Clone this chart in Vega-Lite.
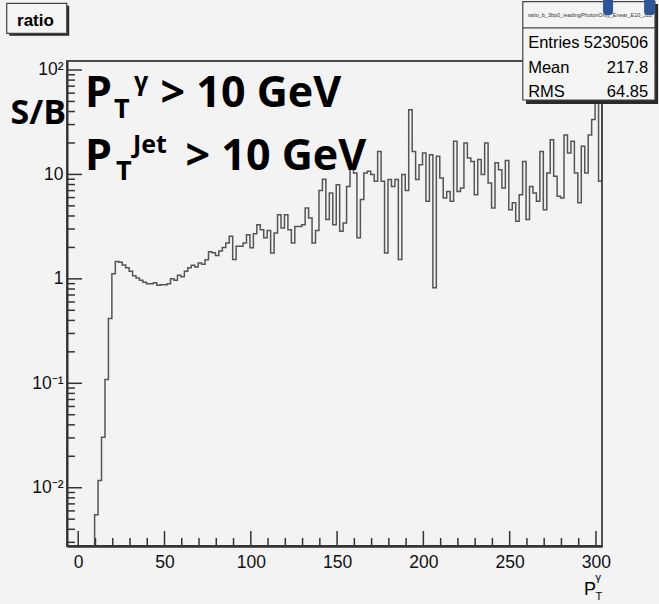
{
  "$schema": "https://vega.github.io/schema/vega-lite/v6.json",
  "width": 535,
  "height": 485,
  "autosize": {"type": "none"},
  "padding": {"left": 67, "top": 61, "right": 57, "bottom": 58},
  "background": "#f3f3f3",
  "config": {
    "view": {"stroke": "#4a4a4a", "strokeWidth": 2}
  },
  "datasets": {
    "hist": [
      {"pt": 7.5, "ratio": 0.001},
      {"pt": 9.5, "ratio": 0.0055}, {"pt": 11.5, "ratio": 0.0117}, {"pt": 13.5, "ratio": 0.0305},
      {"pt": 15.5, "ratio": 0.109}, {"pt": 17.5, "ratio": 0.417}, {"pt": 19.5, "ratio": 1.12},
      {"pt": 21.5, "ratio": 1.47}, {"pt": 23.5, "ratio": 1.44}, {"pt": 25.5, "ratio": 1.36},
      {"pt": 27.5, "ratio": 1.28}, {"pt": 29.5, "ratio": 1.18}, {"pt": 31.5, "ratio": 1.07},
      {"pt": 33.5, "ratio": 1.02}, {"pt": 35.5, "ratio": 0.97}, {"pt": 37.5, "ratio": 0.93},
      {"pt": 39.5, "ratio": 0.9}, {"pt": 41.5, "ratio": 0.9}, {"pt": 43.5, "ratio": 0.92},
      {"pt": 45.5, "ratio": 0.87}, {"pt": 47.5, "ratio": 0.88}, {"pt": 49.5, "ratio": 0.88},
      {"pt": 51.5, "ratio": 0.9}, {"pt": 53.5, "ratio": 1.0}, {"pt": 55.5, "ratio": 0.97},
      {"pt": 57.5, "ratio": 1.08}, {"pt": 59.5, "ratio": 1.05}, {"pt": 61.5, "ratio": 1.18},
      {"pt": 63.5, "ratio": 1.28}, {"pt": 65.5, "ratio": 1.35}, {"pt": 67.5, "ratio": 1.3},
      {"pt": 69.5, "ratio": 1.42}, {"pt": 71.5, "ratio": 1.38}, {"pt": 73.5, "ratio": 1.52},
      {"pt": 75.5, "ratio": 1.82}, {"pt": 77.5, "ratio": 1.78}, {"pt": 79.5, "ratio": 1.67},
      {"pt": 81.5, "ratio": 1.85}, {"pt": 83.5, "ratio": 2.0}, {"pt": 85.5, "ratio": 2.2},
      {"pt": 87.5, "ratio": 2.56}, {"pt": 89.5, "ratio": 1.53}, {"pt": 91.5, "ratio": 2.05},
      {"pt": 93.5, "ratio": 2.05}, {"pt": 95.5, "ratio": 2.2}, {"pt": 97.5, "ratio": 2.65},
      {"pt": 99.5, "ratio": 1.98}, {"pt": 101.5, "ratio": 2.7}, {"pt": 103.5, "ratio": 3.3},
      {"pt": 105.5, "ratio": 2.96}, {"pt": 107.5, "ratio": 2.47}, {"pt": 109.5, "ratio": 2.9},
      {"pt": 111.5, "ratio": 1.77}, {"pt": 113.5, "ratio": 2.75}, {"pt": 115.5, "ratio": 4.12},
      {"pt": 117.5, "ratio": 3.07}, {"pt": 119.5, "ratio": 4.12}, {"pt": 121.5, "ratio": 2.96},
      {"pt": 123.5, "ratio": 2.21}, {"pt": 125.5, "ratio": 3.18}, {"pt": 127.5, "ratio": 3.18},
      {"pt": 129.5, "ratio": 3.3}, {"pt": 131.5, "ratio": 4.78}, {"pt": 133.5, "ratio": 3.83},
      {"pt": 135.5, "ratio": 2.2}, {"pt": 137.5, "ratio": 2.9}, {"pt": 139.5, "ratio": 7.0},
      {"pt": 141.5, "ratio": 9.0}, {"pt": 143.5, "ratio": 3.7}, {"pt": 145.5, "ratio": 6.65},
      {"pt": 147.5, "ratio": 3.3}, {"pt": 149.5, "ratio": 7.97}, {"pt": 151.5, "ratio": 2.86},
      {"pt": 153.5, "ratio": 3.43}, {"pt": 155.5, "ratio": 7.67}, {"pt": 157.5, "ratio": 11.5},
      {"pt": 159.5, "ratio": 10.3}, {"pt": 161.5, "ratio": 2.47}, {"pt": 163.5, "ratio": 5.74},
      {"pt": 165.5, "ratio": 10.3}, {"pt": 167.5, "ratio": 10.7}, {"pt": 169.5, "ratio": 9.96},
      {"pt": 171.5, "ratio": 8.6}, {"pt": 173.5, "ratio": 16.6}, {"pt": 175.5, "ratio": 8.6},
      {"pt": 177.5, "ratio": 1.77}, {"pt": 179.5, "ratio": 8.94}, {"pt": 181.5, "ratio": 7.67},
      {"pt": 183.5, "ratio": 8.94}, {"pt": 185.5, "ratio": 1.53}, {"pt": 187.5, "ratio": 9.96},
      {"pt": 189.5, "ratio": 7.0}, {"pt": 191.5, "ratio": 41.7}, {"pt": 193.5, "ratio": 16.6},
      {"pt": 195.5, "ratio": 8.94}, {"pt": 197.5, "ratio": 12.4}, {"pt": 199.5, "ratio": 16.0},
      {"pt": 201.5, "ratio": 5.53}, {"pt": 203.5, "ratio": 15.4}, {"pt": 205.5, "ratio": 0.82},
      {"pt": 207.5, "ratio": 14.9}, {"pt": 209.5, "ratio": 9.26}, {"pt": 211.5, "ratio": 5.95},
      {"pt": 213.5, "ratio": 6.88}, {"pt": 215.5, "ratio": 5.53}, {"pt": 217.5, "ratio": 20.8},
      {"pt": 219.5, "ratio": 6.88}, {"pt": 221.5, "ratio": 7.43}, {"pt": 223.5, "ratio": 20.0},
      {"pt": 225.5, "ratio": 14.4}, {"pt": 227.5, "ratio": 13.3}, {"pt": 229.5, "ratio": 6.4},
      {"pt": 231.5, "ratio": 13.9}, {"pt": 233.5, "ratio": 9.96}, {"pt": 235.5, "ratio": 20.0},
      {"pt": 237.5, "ratio": 8.29}, {"pt": 239.5, "ratio": 4.78}, {"pt": 241.5, "ratio": 12.9},
      {"pt": 243.5, "ratio": 11.1}, {"pt": 245.5, "ratio": 7.43}, {"pt": 247.5, "ratio": 13.6},
      {"pt": 249.5, "ratio": 4.6}, {"pt": 251.5, "ratio": 5.34}, {"pt": 253.5, "ratio": 3.56},
      {"pt": 255.5, "ratio": 6.4}, {"pt": 257.5, "ratio": 13.3}, {"pt": 259.5, "ratio": 3.7},
      {"pt": 261.5, "ratio": 7.67}, {"pt": 263.5, "ratio": 6.65}, {"pt": 265.5, "ratio": 5.53},
      {"pt": 267.5, "ratio": 16.6}, {"pt": 269.5, "ratio": 4.6}, {"pt": 271.5, "ratio": 10.3},
      {"pt": 273.5, "ratio": 21.5}, {"pt": 275.5, "ratio": 9.6}, {"pt": 277.5, "ratio": 6.17},
      {"pt": 279.5, "ratio": 5.95}, {"pt": 281.5, "ratio": 23.9}, {"pt": 283.5, "ratio": 16.0},
      {"pt": 285.5, "ratio": 20.8}, {"pt": 287.5, "ratio": 10.3}, {"pt": 289.5, "ratio": 5.34},
      {"pt": 291.5, "ratio": 18.6}, {"pt": 293.5, "ratio": 10.3}, {"pt": 295.5, "ratio": 23.9},
      {"pt": 297.5, "ratio": 33.5}, {"pt": 299.5, "ratio": 70.0}, {"pt": 301.5, "ratio": 8.6},
      {"pt": 303.5, "ratio": 0.001}
    ],
    "xTicks": [
      {"v": 0, "lo": 0.002767, "hi": 0.00385}, {"v": 10, "lo": 0.002767, "hi": 0.0033},
      {"v": 20, "lo": 0.002767, "hi": 0.0033}, {"v": 30, "lo": 0.002767, "hi": 0.0033},
      {"v": 40, "lo": 0.002767, "hi": 0.0033}, {"v": 50, "lo": 0.002767, "hi": 0.00385},
      {"v": 60, "lo": 0.002767, "hi": 0.0033}, {"v": 70, "lo": 0.002767, "hi": 0.0033},
      {"v": 80, "lo": 0.002767, "hi": 0.0033}, {"v": 90, "lo": 0.002767, "hi": 0.0033},
      {"v": 100, "lo": 0.002767, "hi": 0.00385}, {"v": 110, "lo": 0.002767, "hi": 0.0033},
      {"v": 120, "lo": 0.002767, "hi": 0.0033}, {"v": 130, "lo": 0.002767, "hi": 0.0033},
      {"v": 140, "lo": 0.002767, "hi": 0.0033}, {"v": 150, "lo": 0.002767, "hi": 0.00385},
      {"v": 160, "lo": 0.002767, "hi": 0.0033}, {"v": 170, "lo": 0.002767, "hi": 0.0033},
      {"v": 180, "lo": 0.002767, "hi": 0.0033}, {"v": 190, "lo": 0.002767, "hi": 0.0033},
      {"v": 200, "lo": 0.002767, "hi": 0.00385}, {"v": 210, "lo": 0.002767, "hi": 0.0033},
      {"v": 220, "lo": 0.002767, "hi": 0.0033}, {"v": 230, "lo": 0.002767, "hi": 0.0033},
      {"v": 240, "lo": 0.002767, "hi": 0.0033}, {"v": 250, "lo": 0.002767, "hi": 0.00385},
      {"v": 260, "lo": 0.002767, "hi": 0.0033}, {"v": 270, "lo": 0.002767, "hi": 0.0033},
      {"v": 280, "lo": 0.002767, "hi": 0.0033}, {"v": 290, "lo": 0.002767, "hi": 0.0033},
      {"v": 300, "lo": 0.002767, "hi": 0.00385}
    ],
    "yTicks": [
      {"v": 0.003, "lo": -6.5, "hi": -1.9}, {"v": 0.004, "lo": -6.5, "hi": -1.9}, {"v": 0.005, "lo": -6.5, "hi": -1.9},
      {"v": 0.006, "lo": -6.5, "hi": -1.9}, {"v": 0.007, "lo": -6.5, "hi": -1.9}, {"v": 0.008, "lo": -6.5, "hi": -1.9},
      {"v": 0.009, "lo": -6.5, "hi": -1.9}, {"v": 0.01, "lo": -6.5, "hi": 2.2},
      {"v": 0.02, "lo": -6.5, "hi": -1.9}, {"v": 0.03, "lo": -6.5, "hi": -1.9}, {"v": 0.04, "lo": -6.5, "hi": -1.9},
      {"v": 0.05, "lo": -6.5, "hi": -1.9}, {"v": 0.06, "lo": -6.5, "hi": -1.9}, {"v": 0.07, "lo": -6.5, "hi": -1.9},
      {"v": 0.08, "lo": -6.5, "hi": -1.9}, {"v": 0.09, "lo": -6.5, "hi": -1.9}, {"v": 0.1, "lo": -6.5, "hi": 2.2},
      {"v": 0.2, "lo": -6.5, "hi": -1.9}, {"v": 0.3, "lo": -6.5, "hi": -1.9}, {"v": 0.4, "lo": -6.5, "hi": -1.9},
      {"v": 0.5, "lo": -6.5, "hi": -1.9}, {"v": 0.6, "lo": -6.5, "hi": -1.9}, {"v": 0.7, "lo": -6.5, "hi": -1.9},
      {"v": 0.8, "lo": -6.5, "hi": -1.9}, {"v": 0.9, "lo": -6.5, "hi": -1.9}, {"v": 1, "lo": -6.5, "hi": 2.2},
      {"v": 2, "lo": -6.5, "hi": -1.9}, {"v": 3, "lo": -6.5, "hi": -1.9}, {"v": 4, "lo": -6.5, "hi": -1.9},
      {"v": 5, "lo": -6.5, "hi": -1.9}, {"v": 6, "lo": -6.5, "hi": -1.9}, {"v": 7, "lo": -6.5, "hi": -1.9},
      {"v": 8, "lo": -6.5, "hi": -1.9}, {"v": 9, "lo": -6.5, "hi": -1.9}, {"v": 10, "lo": -6.5, "hi": 2.2},
      {"v": 20, "lo": -6.5, "hi": -1.9}, {"v": 30, "lo": -6.5, "hi": -1.9}, {"v": 40, "lo": -6.5, "hi": -1.9},
      {"v": 50, "lo": -6.5, "hi": -1.9}, {"v": 60, "lo": -6.5, "hi": -1.9}, {"v": 70, "lo": -6.5, "hi": -1.9},
      {"v": 80, "lo": -6.5, "hi": -1.9}, {"v": 90, "lo": -6.5, "hi": -1.9}, {"v": 100, "lo": -6.5, "hi": 2.2}
    ]
  },
  "layer": [
    {
      "data": {"name": "hist"},
      "mark": {"type": "line", "interpolate": "step-after", "clip": true, "stroke": "#555555", "strokeWidth": 1.5},
      "encoding": {
        "x": {
          "field": "pt", "type": "quantitative",
          "scale": {"domain": [-6.5, 303.5], "nice": false, "zero": false},
          "axis": {
            "orient": "bottom", "values": [0, 50, 100, 150, 200, 250, 300],
            "ticks": false, "grid": false,
            "domainColor": "#333333", "domainWidth": 2.5,
            "labelFont": "Liberation Sans", "labelFontSize": 17.5, "labelColor": "#111111",
            "labelPadding": 7, "labelFlush": false, "labelOverlap": false, "title": null
          }
        },
        "y": {
          "field": "ratio", "type": "quantitative",
          "scale": {"type": "log", "domain": [0.002767, 121.9], "nice": false},
          "axis": {
            "orient": "left", "values": [0.01, 0.1, 1, 10, 100],
            "ticks": false, "grid": false,
            "domainColor": "#333333", "domainWidth": 2,
            "labelFont": "Liberation Sans", "labelFontSize": 17.5, "labelColor": "#111111",
            "labelPadding": 4, "labelFlush": false, "labelOverlap": false,
            "labelExpr": "datum.value >= 99 ? '10²' : datum.value >= 9 ? '10' : datum.value >= 0.9 ? '1' : datum.value >= 0.09 ? '10⁻¹' : '10⁻²'",
            "title": "S/B", "titleAngle": 0, "titleAlign": "left", "titleBaseline": "alphabetic",
            "titleX": -57, "titleY": 62, "titleFont": "Open Sans", "titleFontWeight": "bold",
            "titleFontSize": 34, "titleColor": "#000000"
          }
        }
      }
    },
    {
      "data": {"name": "xTicks"},
      "mark": {"type": "rule", "stroke": "#333333", "strokeWidth": 1.5, "clip": false},
      "encoding": {
        "x": {"field": "v", "type": "quantitative"},
        "y": {"field": "lo", "type": "quantitative"},
        "y2": {"field": "hi"}
      }
    },
    {
      "data": {"name": "yTicks"},
      "mark": {"type": "rule", "stroke": "#333333", "strokeWidth": 1.5, "clip": false},
      "encoding": {
        "y": {"field": "v", "type": "quantitative"},
        "x": {"field": "lo", "type": "quantitative"},
        "x2": {"field": "hi"}
      }
    },
    {
      "data": {"values": [
        {"x": 3.94, "y": 44.2, "text": "P"},
        {"x": 47.7, "y": 44.2, "text": "> 10 GeV"},
        {"x": 3.94, "y": 11.02, "text": "P"},
        {"x": 62.2, "y": 11.02, "text": "> 10 GeV"}
      ]},
      "mark": {"type": "text", "font": "Open Sans", "fontWeight": "bold", "fontSize": 43, "align": "left", "baseline": "alphabetic", "color": "#000000", "clip": false},
      "encoding": {
        "x": {"field": "x", "type": "quantitative"},
        "y": {"field": "y", "type": "quantitative"},
        "text": {"field": "text"}
      }
    },
    {
      "data": {"values": [
        {"x": 20.7, "y": 34.7, "text": "T"},
        {"x": 21.9, "y": 8.84, "text": "T"}
      ]},
      "mark": {"type": "text", "font": "Open Sans", "fontWeight": "bold", "fontSize": 27, "align": "left", "baseline": "alphabetic", "color": "#000000", "clip": false},
      "encoding": {
        "x": {"field": "x", "type": "quantitative"},
        "y": {"field": "y", "type": "quantitative"},
        "text": {"field": "text"}
      }
    },
    {
      "data": {"values": [
        {"x": 32.3, "y": 64.3, "text": "γ"},
        {"x": 31.75, "y": 16.03, "text": "Jet"}
      ]},
      "mark": {"type": "text", "font": "Open Sans", "fontWeight": "bold", "fontSize": 25, "align": "left", "baseline": "alphabetic", "color": "#000000", "clip": false},
      "encoding": {
        "x": {"field": "x", "type": "quantitative"},
        "y": {"field": "y", "type": "quantitative"},
        "text": {"field": "text"}
      }
    },
    {
      "data": {"values": [
        {"x": -39.98, "x2": -5.21, "y": 411.7, "y2": 212.5},
        {"x": 259.5, "x2": 336.0, "y": 428.3, "y2": 47.2}
      ]},
      "mark": {"type": "rect", "fill": "#2a2a2a", "clip": false},
      "encoding": {
        "x": {"field": "x", "type": "quantitative"},
        "x2": {"field": "x2"},
        "y": {"field": "y", "type": "quantitative"},
        "y2": {"field": "y2"}
      }
    },
    {
      "data": {"values": [
        {"x": -41.43, "x2": -6.66, "y": 434.5, "y2": 224.4},
        {"x": 257.6, "x2": 334.2, "y": 450.7, "y2": 51.6}
      ]},
      "mark": {"type": "rect", "fill": "#f4f4f4", "stroke": "#444444", "strokeWidth": 1.2, "clip": false},
      "encoding": {
        "x": {"field": "x", "type": "quantitative"},
        "x2": {"field": "x2"},
        "y": {"field": "y", "type": "quantitative"},
        "y2": {"field": "y2"}
      }
    },
    {
      "data": {"values": [{"x": 257.6, "x2": 334.2, "y": 252.5}]},
      "mark": {"type": "rule", "stroke": "#444444", "strokeWidth": 1.2, "clip": false},
      "encoding": {
        "x": {"field": "x", "type": "quantitative"},
        "x2": {"field": "x2"},
        "y": {"field": "y", "type": "quantitative"}
      }
    },
    {
      "data": {"values": [{"x": 296.6, "y": 321.6, "text": "ratio_b_3bp0_leadingPhotonOnly_Enear_E10_J10"}]},
      "mark": {"type": "text", "font": "Liberation Sans", "fontSize": 5.5, "align": "center", "baseline": "alphabetic", "color": "#333333", "clip": false},
      "encoding": {
        "x": {"field": "x", "type": "quantitative"},
        "y": {"field": "y", "type": "quantitative"},
        "text": {"field": "text"}
      }
    },
    {
      "data": {"values": [
        {"x": 260.7, "y": 162.4, "text": "Entries"},
        {"x": 260.7, "y": 93.6, "text": "Mean"},
        {"x": 260.7, "y": 55.1, "text": "RMS"}
      ]},
      "mark": {"type": "text", "font": "Liberation Sans", "fontSize": 16.5, "align": "left", "baseline": "alphabetic", "color": "#000000", "clip": false},
      "encoding": {
        "x": {"field": "x", "type": "quantitative"},
        "y": {"field": "y", "type": "quantitative"},
        "text": {"field": "text"}
      }
    },
    {
      "data": {"values": [
        {"x": 330.2, "y": 162.4, "text": "5230506"},
        {"x": 330.2, "y": 93.6, "text": "217.8"},
        {"x": 330.2, "y": 55.1, "text": "64.85"}
      ]},
      "mark": {"type": "text", "font": "Liberation Sans", "fontSize": 16.5, "align": "right", "baseline": "alphabetic", "color": "#000000", "clip": false},
      "encoding": {
        "x": {"field": "x", "type": "quantitative"},
        "y": {"field": "y", "type": "quantitative"},
        "text": {"field": "text"}
      }
    },
    {
      "data": {"values": [{"x": -35.46, "y": 263.8, "text": "ratio"}]},
      "mark": {"type": "text", "font": "Liberation Sans", "fontWeight": "bold", "fontSize": 17, "align": "left", "baseline": "alphabetic", "color": "#000000", "clip": false},
      "encoding": {
        "x": {"field": "x", "type": "quantitative"},
        "y": {"field": "y", "type": "quantitative"},
        "text": {"field": "text"}
      }
    },
    {
      "data": {"values": [{"x": 293.1, "y": 0.00094, "text": "P"}]},
      "mark": {"type": "text", "font": "Liberation Sans", "fontSize": 18, "align": "left", "baseline": "alphabetic", "color": "#000000", "clip": false},
      "encoding": {
        "x": {"field": "x", "type": "quantitative"},
        "y": {"field": "y", "type": "quantitative"},
        "text": {"field": "text"}
      }
    },
    {
      "data": {"values": [
        {"x": 299.8, "y": 0.000841, "text": "T"},
        {"x": 299.8, "y": 0.001279, "text": "γ"}
      ]},
      "mark": {"type": "text", "font": "Liberation Sans", "fontSize": 11, "align": "left", "baseline": "alphabetic", "color": "#000000", "clip": false},
      "encoding": {
        "x": {"field": "x", "type": "quantitative"},
        "y": {"field": "y", "type": "quantitative"},
        "text": {"field": "text"}
      }
    },
    {
      "data": {"values": [
        {"x": 304.1, "x2": 309.9, "y": 489, "y2": 336},
        {"x": 327.9, "x2": 334.2, "y": 489, "y2": 336}
      ]},
      "mark": {"type": "rect", "fill": "#2e5597", "cornerRadius": 3, "clip": false},
      "encoding": {
        "x": {"field": "x", "type": "quantitative"},
        "x2": {"field": "x2"},
        "y": {"field": "y", "type": "quantitative"},
        "y2": {"field": "y2"}
      }
    }
  ]
}
